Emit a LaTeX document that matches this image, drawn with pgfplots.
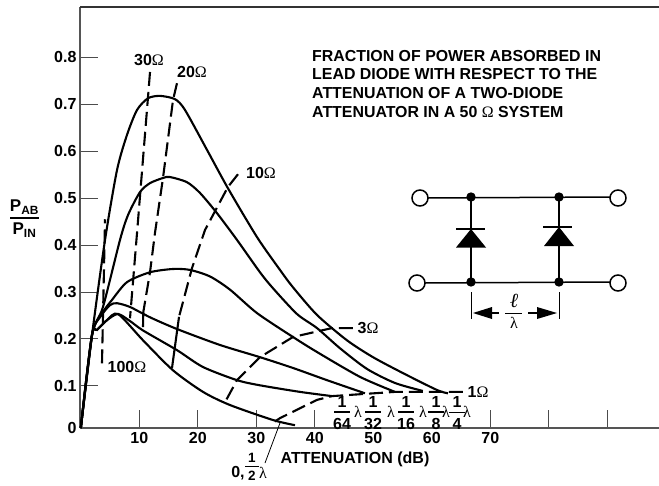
\documentclass[border=0pt]{standalone}
\usepackage{fontspec}
\setmainfont{Liberation Sans}
\newfontfamily\sym{Liberation Serif}
\usepackage{pgfplots}
\pgfplotsset{compat=1.18}
\newcommand{\ohm}{{\sym\mdseries\symbol{"03A9}}}
\newcommand{\lam}{{\sym\mdseries\symbol{"03BB}}}
\newcommand{\fr}[2]{\tikz[baseline=-0.5ex]{\node[inner sep=0pt] (n) at (0,0.62em) {#1};\node[inner sep=0pt] (d) at (0,-0.72em) {#2};\draw[line width=1.3pt] (-0.5em,0)--(0.5em,0);}}
\definecolor{axisgray}{HTML}{555555}
\pgfplotsset{curve/.style={black,line width=2.1pt,smooth,tension=0.45},
  dashline/.style={black,line width=2.1pt,dash pattern=on 14pt off 6pt}}
\begin{document}
\begin{tikzpicture}[x=1pt,y=-1pt,font=\fontsize{16}{18}\selectfont\bfseries]
\path[use as bounding box] (0,0) rectangle (659,485);
\begin{axis}[
  at={(80pt,-428pt)}, anchor=south west,
  scale only axis, width=579pt, height=421pt,
  xmin=-0.14, xmax=98.85,
  ymin=0.01, ymax=0.9075,
  axis lines=left,
  axis line style={-},
  x axis line style={line width=1.8pt,color=axisgray},
  y axis line style={line width=1.2pt,color=axisgray},
  tick align=inside,
  major tick length=18pt,
  tick style={line width=0.9pt,color=black!70},
  xtick={10,20,30,40,70,80,90},
  xticklabels={10,20,30,40,70,{},{}},
  extra x ticks={50,60},
  extra x tick labels={50,60},
  extra x tick style={major tick length=0pt},
  ytick={0.01,0.1,0.2,0.3,0.4,0.5,0.6,0.7,0.8},
  yticklabels={0,0.1,0.2,0.3,0.4,0.5,0.6,0.7,0.8},
  tick label style={font=\fontsize{16}{18}\selectfont\bfseries},
  xticklabel style={yshift=-1pt},
  clip=false,
]
% diode curves, one per spacing
\addplot[curve] coordinates {
 (0,0.01)(1.91,0.208)(4.14,0.411)(6.19,0.560)(7.90,0.635)(9.61,0.688)(11.49,0.713)(13.54,0.718)
 (16.10,0.711)(17.81,0.688)(21.57,0.603)(25.16,0.521)(30.12,0.417)(34.05,0.347)(36.27,0.310)
 (40.38,0.251)(45.50,0.197)(49.95,0.161)(55.08,0.127)(60.89,0.091)(62.77,0.084)};
\addplot[curve] coordinates {
 (0,0.01)(1.91,0.208)(3.79,0.268)(6.70,0.411)(8.07,0.464)(10.12,0.513)(11.83,0.532)(14.05,0.543)
 (15.25,0.545)(18.15,0.534)(20.38,0.511)(23.28,0.468)(26.70,0.411)(30.63,0.342)(32.85,0.308)
 (36.96,0.253)(40.38,0.223)(44.31,0.180)(48.92,0.136)(53.70,0.106)(58.48,0.089)};
\addplot[curve] coordinates {
 (0,0.01)(1.91,0.208)(3.79,0.257)(5.33,0.283)(7.90,0.321)(11.83,0.342)(15.76,0.349)
 (18.67,0.347)(22.09,0.333)(25.50,0.305)(30.12,0.255)(36.27,0.204)(40.38,0.172)(47.73,0.119)(53.71,0.087)};
\addplot[curve] coordinates {
 (0,0.01)(1.91,0.208)(3.28,0.246)(4.99,0.272)(6.19,0.276)(8.41,0.268)(11.83,0.246)(16.44,0.221)
 (23.79,0.187)(30.63,0.161)(36.27,0.138)(42.08,0.112)(48.58,0.084)};
\addplot[curve] coordinates {
 (0,0.01)(1.91,0.208)(2.77,0.219)(4.48,0.240)(6.36,0.253)(8.41,0.238)(10.63,0.218)
 (16.44,0.176)(20.89,0.140)(26.70,0.112)(30.63,0.101)(37.47,0.087)(42.94,0.078)};
\addplot[curve] coordinates {
 (0,0.01)(1.91,0.208)(2.77,0.219)(4.48,0.240)(6.36,0.253)(10.63,0.197)(15.76,0.133)
 (20.89,0.087)(25.50,0.059)(32.85,0.027)(36.62,0.016)};
% dashed resistance lines
\addplot[dashline] coordinates {(3.62,0.148)(4.14,0.455)};
\addplot[dashline] coordinates {
 (11.83,0.769)(11.49,0.716)(9.61,0.426)(8.41,0.244)};
\addplot[dashline] coordinates {
 (16.44,0.745)(15.76,0.709)(14.05,0.543)(12.68,0.426)(11.83,0.342)(10.68,0.257)};
\addplot[black,line width=2.1pt] coordinates {(10.68,0.257)(10.63,0.225)};
\addplot[dashline] coordinates {
 (26.87,0.551)(25.16,0.524)(21.23,0.432)(19.01,0.351)(16.79,0.247)};
\addplot[black,line width=2.1pt] coordinates {(16.79,0.247)(15.59,0.138)};
\addplot[dashline] coordinates {
 (46.53,0.223)(42.94,0.223)(36.27,0.204)(30.63,0.161)(26.70,0.112)(24.65,0.065)};
\addplot[dashline] coordinates {
 (65.33,0.087)(53.71,0.087)(42.94,0.078)(40.38,0.070)(34.05,0.031)(32.68,0.020)};
\end{axis}
% top border
\draw[line width=1.4pt,color=black!80] (80,7)--(659,7);
% labels on the curves
\node at (149,60) {30\ohm};
\node at (192,72) {20\ohm};
\node at (261,173) {10\ohm};
\node at (368,328) {3\ohm};
\node at (478,392) {1\ohm};
\node at (127,367) {100\ohm};
\node at (355,459) {ATTENUATION (dB)};
\node[align=left,anchor=north west,inner sep=0pt,font=\fontsize{15.9}{18.6}\selectfont\bfseries] at (312,50)
  {FRACTION OF POWER ABSORBED IN\\LEAD DIODE WITH RESPECT TO THE\\ATTENUATION OF A TWO-DIODE\\ATTENUATOR IN A 50 \ohm{} SYSTEM};
% spacing labels
\node at (342,413) {\fr{1}{64}}; \node at (358,412) {\lam};
\node at (373,413) {\fr{1}{32}}; \node at (391,412) {\lam};
\node at (406,413) {\fr{1}{16}}; \node at (423,412) {\lam};
\node at (436,413) {\fr{1}{8}};  \node at (446,412) {\lam};
\node at (457,413) {\fr{1}{4}};  \node at (467,412) {\lam};
\node at (238,473) {0,}; \node[font=\fontsize{13.5}{16}\selectfont\bfseries] at (252,467) {\fr{1}{2}}; \node at (263,473) {\lam};
\draw[line width=0.8pt] (280,423)--(265,463);
% y label
\node[font=\fontsize{17}{18}\selectfont\bfseries] at (24.5,207) {P\textsubscript{AB}};
\draw[line width=1.5pt] (10,218)--(39,218);
\node[font=\fontsize{17}{18}\selectfont\bfseries] at (24.5,230) {P\textsubscript{IN}};
% circuit
\begin{scope}[line width=1.5pt]
\draw (428,198)--(610,197) (425,283)--(610,282);
\draw (471,197)--(471,282) (559,197)--(559,282);
\draw[fill=white] (420,198) circle[radius=8] (417,283) circle[radius=8];
\draw[fill=white] (618,198) circle[radius=8] (618,283) circle[radius=8];
\fill (471,197) circle[radius=4.7] (559,197) circle[radius=4.7];
\fill (471,282) circle[radius=4.7] (559,282) circle[radius=4.7];
\fill (471,229)--(456,247.5)--(486,247.5)--cycle;
\fill (559,227)--(544,246)--(574,246)--cycle;
\draw[line width=2pt] (456,229)--(485,229) (543,227)--(572,227);
\draw[line width=1pt] (471,292)--(471,319) (559,292)--(559,319);
\draw (492,313)--(499,313) (528,313)--(537,313);
\fill (473,313)--(492,307)--(492,319)--cycle;
\fill (557,313)--(537,307)--(537,319)--cycle;
\draw[line width=1pt] (505,313)--(522,313);
\end{scope}
\node[font=\fontsize{20}{20}\selectfont\mdseries] at (514,301) {\sym\itshape\symbol{"2113}};
\node at (514,323) {\lam};
\end{tikzpicture}
\end{document}
